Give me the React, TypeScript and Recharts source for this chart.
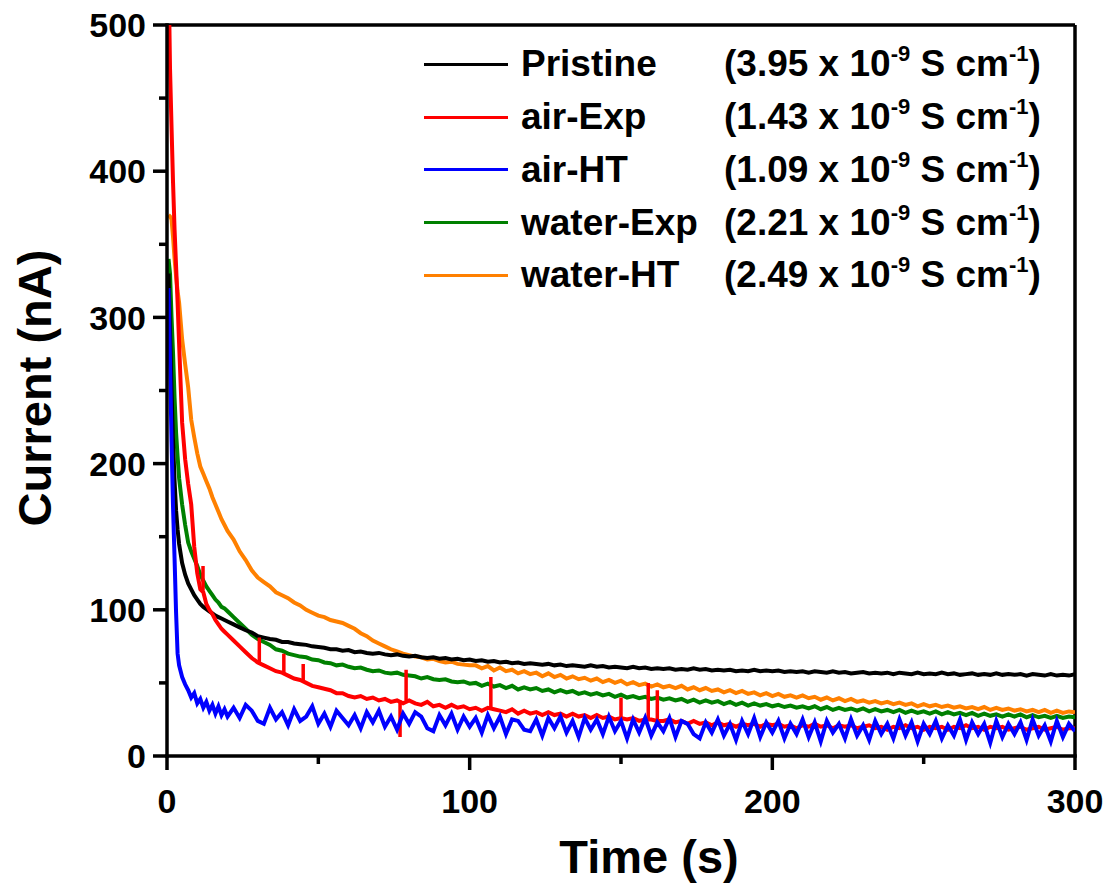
import { LineChart, Line, XAxis, YAxis, ReferenceLine, Legend } from 'recharts';

// time axis (s): dense at the start, then every 2 s
const TIME_S = [
  0.5, 1, 1.5, 2, 2.5, 3, 3.5, 4,
  5, 6, 7, 8, 9, 10, 11, 12,
  13, 14, 15, 16, 17, 18, 19, 20,
  22, 24, 26, 28, 30, 32, 34, 36, 38, 40,
  42, 44, 46, 48, 50, 52, 54, 56, 58, 60,
  62, 64, 66, 68, 70, 72, 74, 76, 78, 80,
  82, 84, 86, 88, 90, 92, 94, 96, 98, 100,
  102, 104, 106, 108, 110, 112, 114, 116, 118, 120,
  122, 124, 126, 128, 130, 132, 134, 136, 138, 140,
  142, 144, 146, 148, 150, 152, 154, 156, 158, 160,
  162, 164, 166, 168, 170, 172, 174, 176, 178, 180,
  182, 184, 186, 188, 190, 192, 194, 196, 198, 200,
  202, 204, 206, 208, 210, 212, 214, 216, 218, 220,
  222, 224, 226, 228, 230, 232, 234, 236, 238, 240,
  242, 244, 246, 248, 250, 252, 254, 256, 258, 260,
  262, 264, 266, 268, 270, 272, 274, 276, 278, 280,
  282, 284, 286, 288, 290, 292, 294, 296, 298, 300,
];

// current (nA)
const PRISTINE = [
  330, 290, 250, 215, 188, 168, 155, 145,
  132, 124, 118, 114, 110, 107, 104, 102,
  100.5, 99, 97.5, 96, 95, 94, 93, 92,
  90, 88, 86, 84.5, 82, 81, 80, 79.5, 78, 78,
  77, 76.5, 76, 75, 74.5, 74, 73, 73, 72, 72.5,
  71, 71.5, 70.5, 70, 70.5, 69.5, 69, 69.5, 68.5, 68,
  68.5, 67.5, 67, 67.5, 66.5, 67, 66, 66.5, 65.5, 66,
  65, 65.5, 64.5, 65, 64, 64.5, 63.5, 64, 63, 63.5,
  63, 62.5, 63, 62, 62.5, 61.5, 62, 61.5, 61, 62,
  61, 61.5, 60.5, 61, 60.5, 60, 61, 60, 60.5, 59.5,
  60, 59.5, 60, 59, 59.5, 59, 60, 59, 59.5, 58.5,
  59, 58.5, 59, 58, 58.5, 58, 59, 58, 58.5, 58,
  58.5, 57.5, 58, 57.5, 58, 57, 58, 57.5, 57, 58,
  57, 57.5, 56.5, 57, 57.5, 56.5, 57, 56.5, 57, 56,
  57, 56.5, 56, 57, 56, 56.5, 56, 57, 56, 56.5,
  55.5, 56, 56.5, 55.5, 56, 55.5, 56.5, 55.5, 56, 55.5,
  56, 55, 56, 55.5, 55, 56, 55, 55.5, 55, 56,
];

const AIR_EXP = [
  540, 470, 430, 392, 360, 335, 310, 282,
  228, 203, 186, 172, 143, 125, 114, 112,
  104, 100, 97, 93, 90, 87, 85, 83,
  79, 75, 71, 67, 64, 62, 60, 58, 57, 55,
  53, 52, 50, 48, 47, 46, 45, 43, 43, 41,
  40, 41, 39, 40, 38, 39, 37, 38, 36, 38,
  36, 35, 37, 34, 35, 33, 35, 33, 34, 32,
  33, 31, 33, 32, 31, 30, 32, 29, 31, 29,
  30, 28, 30, 28, 29, 27, 29, 27, 28, 26,
  28, 26, 27, 25, 26, 25, 26, 24, 25, 25,
  24, 24, 25, 23, 24, 22, 24, 22, 23, 21,
  23, 21, 22, 20, 22, 21, 22, 20, 22, 21,
  22, 20, 21, 19, 21, 20, 22, 20, 21, 19,
  21, 20, 21, 19, 20, 21, 19, 20, 18, 20,
  19, 21, 19, 20, 18, 20, 19, 20, 18, 20,
  19, 21, 19, 20, 18, 20, 19, 20, 18, 19,
  20, 18, 19, 20, 18, 19, 20, 18, 19, 19,
];

// short glitches on the air-Exp trace: time, level before the glitch, glitch tip
const AIR_EXP_SPIKE_T = [11.9, 30.5, 38.6, 45, 77, 79, 107, 150, 159, 162];
const AIR_EXP_SPIKE_BASE = [113, 64, 57, 52, 38, 38, 33, 26, 25, 24];
const AIR_EXP_SPIKE_TIP = [130, 81, 70, 63, 13, 59, 54, 40, 50, 45];

const AIR_HT = [
  320, 270, 215, 170, 135, 98, 70, 62,
  54, 49, 45, 40, 43, 36, 39, 33,
  37, 31, 35, 29, 34, 28, 32, 27,
  33, 26, 35, 31, 24, 22, 33, 25, 30, 21,
  32, 24, 27, 34, 22, 29, 20, 31, 26, 21,
  28, 19, 30, 23, 31, 20, 27, 18, 29, 22,
  30, 27, 19, 17, 28, 21, 29, 18, 27, 20,
  26, 16, 28, 19, 27, 15, 25, 24, 18, 17,
  25, 14, 26, 19, 27, 16, 24, 13, 26, 18,
  25, 15, 27, 17, 24, 12, 25, 16, 26, 14,
  23, 17, 26, 13, 24, 22, 15, 12, 23, 16,
  25, 14, 22, 11, 24, 15, 26, 13, 23, 16,
  24, 12, 22, 15, 25, 13, 23, 10, 24, 16,
  22, 12, 25, 14, 21, 11, 24, 15, 22, 12,
  25, 14, 23, 10, 22, 15, 24, 12, 21, 14,
  25, 11, 23, 15, 22, 9, 24, 13, 22, 15,
  23, 11, 25, 14, 21, 10, 24, 13, 22, 17,
];

const WATER_EXP = [
  340, 330, 300, 275, 245, 221, 205, 190,
  172, 158, 146, 140, 135, 130, 124, 120,
  116, 113, 110, 107, 105, 102, 101, 99,
  95, 91, 87, 83, 80, 78, 76, 73, 72, 70,
  69, 68, 67.5, 66, 65.5, 64, 63.5, 62, 62.5, 61,
  60, 60.5, 59, 58, 58.5, 57, 56.5, 57, 55.5, 55,
  54.5, 53, 54, 52.5, 52, 52.5, 51, 50.5, 51, 49.5,
  50, 48, 49.5, 47.5, 48.5, 46.5, 48, 45.5, 47, 45.5,
  46.5, 44.5, 45.5, 43.5, 45, 43.5, 44.5, 42.5, 43.5, 42,
  43, 41.5, 42.5, 40.5, 42, 40, 41, 39.5, 40.5, 39,
  40, 38.5, 39.5, 38, 39, 37, 38.5, 36.5, 38, 36.5,
  37.5, 35.5, 37, 35, 36.5, 34.5, 36, 34.5, 35.5, 34,
  35, 33.5, 34.5, 33, 34, 32.5, 34, 32, 33.5, 31.5,
  33, 31.5, 32.5, 31, 32.5, 30.5, 32, 30.5, 31.5, 30,
  31.5, 29.5, 31, 29.5, 30.5, 29, 30.5, 28.5, 30, 28.5,
  29.5, 28, 29.5, 27.5, 29, 27.5, 28.5, 27, 28.5, 27,
  28.5, 26.5, 28, 26.5, 27.5, 26, 27.5, 26, 27, 26.5,
];

const WATER_HT = [
  370, 369, 367, 355, 340, 328, 318, 310,
  285, 268, 252, 230, 218, 207, 198, 193,
  188, 183, 177, 172, 167, 162, 158, 154,
  148, 140, 134, 127, 122, 119, 116, 112, 110, 108,
  105, 103, 100, 98, 96, 95, 93, 92, 91, 89,
  87, 84, 82, 79, 77, 75, 73, 71.5, 70, 69,
  68, 67.5, 66, 66.5, 65, 64, 64.5, 63, 62.5, 62,
  62, 60, 61.5, 58.5, 60.5, 58, 59, 56.5, 58, 56,
  57, 54.5, 56.5, 54, 55.5, 53, 54.5, 52.5, 53.5, 51.5,
  53, 50.5, 52, 50, 51.5, 49, 50.5, 48.5, 49.5, 47.5,
  49, 47, 48, 46.5, 48, 45.5, 47, 45, 46.5, 44.5,
  45.5, 43.5, 45, 43, 44.5, 42.5, 43.5, 41.5, 43, 41,
  42.5, 40.5, 41.5, 40, 41.5, 39.5, 40.5, 38.5, 40, 38,
  39.5, 37.5, 39, 37, 38, 36.5, 37.5, 36, 37, 35.5,
  36.5, 35, 36, 34, 35.5, 34, 35, 33.5, 34.5, 33,
  34, 32.5, 33.5, 32, 33.5, 31.5, 33, 31.5, 32.5, 31,
  32, 30.5, 31.5, 30, 31.5, 29.5, 31, 29.5, 30.5, 30,
];

const SERIES_KEYS = ['pristine', 'airExp', 'airHT', 'waterExp', 'waterHT'];
const SERIES_NAMES = ['Pristine', 'air-Exp', 'air-HT', 'water-Exp', 'water-HT'];
const SERIES_COLORS = ['#000000', '#ff0000', '#0000ff', '#008000', '#ff8000'];
const CONDUCTIVITY = ['3.95', '1.43', '1.09', '2.21', '2.49'];
// drawing order (last is on top)
const DRAW_ORDER = [3, 4, 0, 1, 2];

const X_TICKS = [0, 50, 100, 150, 200, 250, 300];
const Y_TICKS = [0, 50, 100, 150, 200, 250, 300, 350, 400, 450, 500];

const FONT = '"Liberation Sans", Arial, Helvetica, sans-serif';
const AXIS_STROKE = 3.5;

const rows = TIME_S.map((t, i) => ({
  t,
  pristine: PRISTINE[i],
  airExp: AIR_EXP[i],
  airHT: AIR_HT[i],
  waterExp: WATER_EXP[i],
  waterHT: WATER_HT[i],
}));

// each glitch is a vertical segment; a null point breaks the path between them
const spikeRows = AIR_EXP_SPIKE_T.flatMap((t, i) => [
  { t, airExpSpike: AIR_EXP_SPIKE_BASE[i] },
  { t, airExpSpike: AIR_EXP_SPIKE_TIP[i] },
  { t, airExpSpike: null },
]);

function XTick(props: any) {
  const { x, y, payload } = props;
  const major = payload.value % 100 === 0;
  return (
    <g>
      <line x1={x} x2={x} y1={y} y2={y + (major ? 14 : 8)} stroke="#000" strokeWidth={AXIS_STROKE} />
      {major && (
        <text x={x} y={y + 57} textAnchor="middle" fontFamily={FONT} fontWeight="bold" fontSize={34} fill="#000">
          {payload.value}
        </text>
      )}
    </g>
  );
}

function YTick(props: any) {
  const { x, y, payload } = props;
  const major = payload.value % 100 === 0;
  return (
    <g>
      <line x1={x - (major ? 14 : 8)} x2={x} y1={y} y2={y} stroke="#000" strokeWidth={AXIS_STROKE} />
      {major && (
        <text x={x - 21} y={y} dy="0.36em" textAnchor="end" fontFamily={FONT} fontWeight="bold" fontSize={34} fill="#000">
          {payload.value}
        </text>
      )}
    </g>
  );
}

const supStyle = { fontSize: 22, verticalAlign: 'baseline', position: 'relative' as const, top: -15 };

function LegendBox(props: any) {
  const payload = props.payload ?? [];
  return (
    <div style={{ fontFamily: FONT, fontWeight: 'bold', fontSize: 37, color: '#000' }}>
      {SERIES_NAMES.map((name, i) => {
        const entry = payload.find((p: any) => p.value === name);
        const color = entry ? entry.color : SERIES_COLORS[i];
        return (
          <div key={name} style={{ display: 'flex', alignItems: 'center', height: 52.75, whiteSpace: 'nowrap' }}>
            <span style={{ width: 84, height: 3, background: color, marginRight: 13, flexShrink: 0 }} />
            <span style={{ width: 203, flexShrink: 0 }}>{name}</span>
            <span>
              ({CONDUCTIVITY[i]} x 10<sup style={supStyle}>-9</sup> S cm<sup style={supStyle}>-1</sup>)
            </span>
          </div>
        );
      })}
    </div>
  );
}

export default function App() {
  return (
    <div style={{ position: 'absolute', left: 0, top: 0, width: 1112, height: 893, background: '#fff' }}>
      <LineChart width={1112} height={893} data={rows} margin={{ top: 25, right: 37, bottom: 0, left: 0 }}>
        <XAxis
          type="number"
          dataKey="t"
          domain={[0, 300]}
          ticks={X_TICKS}
          interval={0}
          tickSize={0}
          tickMargin={0}
          tickLine={false}
          tick={(p: any) => <XTick {...p} />}
          height={137}
          axisLine={{ stroke: '#000', strokeWidth: AXIS_STROKE, strokeLinecap: 'square' }}
          allowDataOverflow
        />
        <YAxis
          type="number"
          domain={[0, 500]}
          ticks={Y_TICKS}
          interval={0}
          tickSize={0}
          tickMargin={0}
          tickLine={false}
          tick={(p: any) => <YTick {...p} />}
          width={167}
          axisLine={{ stroke: '#000', strokeWidth: AXIS_STROKE, strokeLinecap: 'square' }}
          allowDataOverflow
        />
        <ReferenceLine y={500} stroke="#000" strokeWidth={AXIS_STROKE} />
        <ReferenceLine x={300} stroke="#000" strokeWidth={AXIS_STROKE} />
        {DRAW_ORDER.map((i) => [
          <Line
            key={SERIES_KEYS[i]}
            type="linear"
            dataKey={SERIES_KEYS[i]}
            name={SERIES_NAMES[i]}
            stroke={SERIES_COLORS[i]}
            strokeWidth={4}
            strokeLinejoin="miter"
            dot={false}
            activeDot={false}
            isAnimationActive={false}
          />,
          SERIES_KEYS[i] === 'airExp' ? (
            <Line
              key="airExpSpike"
              data={spikeRows}
              type="linear"
              dataKey="airExpSpike"
              name="air-Exp glitches"
              legendType="none"
              stroke={SERIES_COLORS[i]}
              strokeWidth={3.5}
              connectNulls={false}
              dot={false}
              activeDot={false}
              isAnimationActive={false}
            />
          ) : null,
        ])}
        <Legend
          layout="vertical"
          align="center"
          verticalAlign="middle"
          content={<LegendBox />}
          wrapperStyle={{ left: 424, top: 38, width: 660, height: 264 }}
        />
      </LineChart>
      <div
        style={{
          position: 'absolute',
          left: 649,
          top: 856,
          transform: 'translate(-50%, -50%)',
          fontFamily: FONT,
          fontWeight: 'bold',
          fontSize: 47,
          lineHeight: 1,
          whiteSpace: 'nowrap',
        }}
      >
        Time (s)
      </div>
      <div
        style={{
          position: 'absolute',
          left: 34,
          top: 388,
          transform: 'translate(-50%, -50%) rotate(-90deg)',
          fontFamily: FONT,
          fontWeight: 'bold',
          fontSize: 47,
          lineHeight: 1,
          whiteSpace: 'nowrap',
        }}
      >
        Current (nA)
      </div>
    </div>
  );
}
